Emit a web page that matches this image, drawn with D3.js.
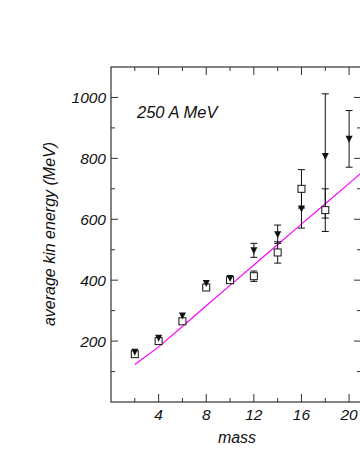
<!DOCTYPE html>
<html>
<head>
<meta charset="utf-8">
<script src="https://cdn.jsdelivr.net/npm/d3@7"></script>
<style>
  body { margin: 0; background: #fff; }
  text { font-family: "Liberation Sans", Arial, sans-serif; font-style: italic; fill: #111; }
</style>
</head>
<body>
<svg id="svg" width="360" height="466"></svg>
<script>
// data
const massTri = [2, 4, 6, 8, 10, 12, 14, 16, 18, 20];
const energyTri = [165, 211, 284, 391, 407, 498, 551, 635, 808, 864];
const errTri = [0, 0, 0, 0, 0, 23, 30, 64, 204, 93];

const massSq = [2, 4, 6, 8, 10, 12, 14, 16, 18];
const energySq = [157, 200, 265, 376, 400, 413, 491, 700, 630];
const errSq = [0, 0, 0, 0, 0, 17, 35, 63, 70];

const massLine = [2, 4, 6, 8, 10, 12, 14, 16, 18, 20, 22];
const energyLine = [123, 181, 248, 316, 383, 450, 517, 584, 651, 718, 785];

const xTicks = [4, 8, 12, 16, 20];
const yTicks = [200, 400, 600, 800, 1000];

const svg = d3.select("#svg");
const m = { left: 111, top: 67, right: 361, bottom: 402 };

const x = d3.scaleLinear().domain([0, 21]).range([m.left, m.right]);
const y = d3.scaleLinear().domain([0, 1100]).range([m.bottom, m.top]);

const axisCol = "#333";

svg.append("defs").append("clipPath").attr("id", "clip")
  .append("rect")
  .attr("x", m.left).attr("y", m.top)
  .attr("width", m.right - m.left).attr("height", m.bottom - m.top);

// frame
svg.append("rect")
  .attr("x", m.left).attr("y", m.top)
  .attr("width", m.right - m.left).attr("height", m.bottom - m.top)
  .attr("fill", "none").attr("stroke", axisCol).attr("stroke-width", 1.2);

// ticks on all four sides, pointing inward
const xMinor = d3.range(2, 21, 2);
const yMinor = d3.range(100, 1100, 100);

function tickLen(v, majors, big, small) { return majors.includes(v) ? big : small; }

xMinor.forEach(v => {
  const L = tickLen(v, xTicks, 8, 4);
  svg.append("line").attr("x1", x(v)).attr("x2", x(v))
    .attr("y1", m.bottom).attr("y2", m.bottom - L).attr("stroke", axisCol);
  svg.append("line").attr("x1", x(v)).attr("x2", x(v))
    .attr("y1", m.top).attr("y2", m.top + L).attr("stroke", axisCol);
});
yMinor.forEach(v => {
  const L = tickLen(v, yTicks, 7, 4);
  svg.append("line").attr("y1", y(v)).attr("y2", y(v))
    .attr("x1", m.left).attr("x2", m.left + L).attr("stroke", axisCol);
  svg.append("line").attr("y1", y(v)).attr("y2", y(v))
    .attr("x1", m.right).attr("x2", m.right - L).attr("stroke", axisCol);
});

// tick labels
svg.selectAll("text.xl").data(xTicks).enter().append("text")
  .attr("class", "xl")
  .attr("x", d => x(d)).attr("y", 420)
  .attr("text-anchor", "middle").attr("font-size", 15.5)
  .text(d => d);

svg.selectAll("text.yl").data(yTicks).enter().append("text")
  .attr("class", "yl")
  .attr("x", 106).attr("y", d => y(d) + 5.5)
  .attr("text-anchor", "end").attr("font-size", 15.5)
  .text(d => d);

// axis titles
svg.append("text")
  .attr("x", 237).attr("y", 443)
  .attr("text-anchor", "middle").attr("font-size", 16)
  .text("mass");

svg.append("text")
  .attr("transform", "translate(55,234) rotate(-90)")
  .attr("text-anchor", "middle").attr("font-size", 16)
  .text("average kin energy (MeV)");

svg.append("text")
  .attr("x", 137).attr("y", 118)
  .attr("font-size", 16.5)
  .text("250 A MeV");

const plot = svg.append("g").attr("clip-path", "url(#clip)");

// magenta curve
plot.append("path")
  .datum(massLine.map((d, i) => [d, energyLine[i]]))
  .attr("fill", "none").attr("stroke", "#ff00ff").attr("stroke-width", 1.2)
  .attr("d", d3.line().x(d => x(d[0])).y(d => y(d[1])));

// error bars
function errorBars(ms, es, errs) {
  const data = ms.map((d, i) => ({ m: d, e: es[i], err: errs[i] })).filter(d => d.err > 0);
  const g = plot.append("g").attr("stroke", "#111").attr("stroke-width", 1);
  g.selectAll("line.v").data(data).enter().append("line")
    .attr("x1", d => x(d.m)).attr("x2", d => x(d.m))
    .attr("y1", d => y(d.e - d.err)).attr("y2", d => y(d.e + d.err));
  [-1, 1].forEach(s => {
    g.selectAll("line.c" + (s + 1)).data(data).enter().append("line")
      .attr("x1", d => x(d.m) - 3.5).attr("x2", d => x(d.m) + 3.5)
      .attr("y1", d => y(d.e + s * d.err)).attr("y2", d => y(d.e + s * d.err));
  });
}
errorBars(massTri, energyTri, errTri);
errorBars(massSq, energySq, errSq);

// open squares
plot.selectAll("rect.sq")
  .data(massSq.map((d, i) => ({ m: d, e: energySq[i] })))
  .enter().append("rect")
  .attr("x", d => x(d.m) - 3.5).attr("y", d => y(d.e) - 3.5)
  .attr("width", 7).attr("height", 7)
  .attr("fill", "#fff").attr("stroke", "#111").attr("stroke-width", 1);

// filled down triangles
plot.selectAll("path.tri")
  .data(massTri.map((d, i) => ({ m: d, e: energyTri[i] })))
  .enter().append("path")
  .attr("transform", d => `translate(${x(d.m)},${y(d.e)})`)
  .attr("d", "M-3.5,-3L3.5,-3L0,4Z")
  .attr("fill", "#111");
</script>
</body>
</html>
